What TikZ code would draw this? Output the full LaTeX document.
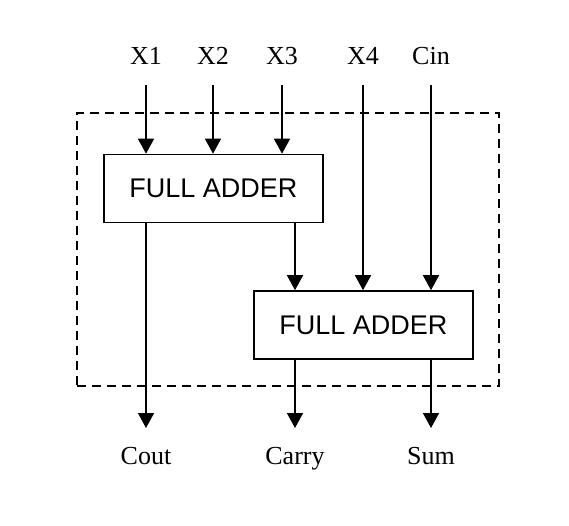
\documentclass[tikz,border=0pt]{standalone}
\usepackage{fontspec}
\setmainfont{Liberation Serif}
\newfontfamily\boxfont{Liberation Sans}
\usetikzlibrary{arrows.meta}

\tikzset{
    adder/.style={draw, line width=1.6pt, minimum width=219pt, minimum height=68pt, inner sep=0pt, font=\boxfont\fontsize{27}{30}\selectfont},
    block/.style={draw, line width=1.6pt, dash pattern=on 9pt off 6pt, minimum width=422pt, minimum height=273pt, inner sep=0pt},
    sig/.style={inner sep=0pt, anchor=base, font=\fontsize{26}{30}\selectfont},
    wire/.style={line width=1.6pt, -{Triangle[width=16pt,length=15pt]}}
}

\begin{document}
\begin{tikzpicture}[x=1pt, y=-1pt]
        % Define Variables
        \def\cA{146}
        \def\cB{213}
        \def\cC{282}
        \def\cD{363}
        \def\cE{431}
        \def\cF{295}
        \def\top{85}
        \def\bottom{428}

        \useasboundingbox (0,0) rectangle (569,526);

        % Overall Scheme
        \node[block] (blk) at (288,249.5) {};
        \node[adder] (fa1) at (213.5,188.5) {FULL ADDER};
        \node[adder] (fa2) at (363.5,325) {FULL ADDER};

        % Inputs
        \node[sig] (x1) at (\cA,65) {X1};
        \node[sig] (x2) at (\cB,65) {X2};
        \node[sig] (x3) at (\cC,65) {X3};
        \node[sig] (x4) at (\cD,65) {X4};
        \node[sig] (cin) at (\cE,65) {Cin};
        \coordinate (x1s) at (\cA,\top);
        \coordinate (x2s) at (\cB,\top);
        \coordinate (x3s) at (\cC,\top);
        \coordinate (x4s) at (\cD,\top);
        \coordinate (cins) at (\cE,\top);
        \draw[wire] (x1s) -- (x1s |- fa1.north);
        \draw[wire] (x2s) -- (x2s |- fa1.north);
        \draw[wire] (x3s) -- (x3s |- fa1.north);
        \draw[wire] (x4s) -- (x4s |- fa2.north);
        \draw[wire] (cins) -- (cins |- fa2.north);

        % Between Adders
        \coordinate (mid) at (\cF,\top);
        \draw[wire] (mid |- fa1.south) -- (mid |- fa2.north);

        % Outputs
        \node[sig] (cout) at (\cA,464) {Cout};
        \node[sig] (carry) at (\cF,464) {Carry};
        \node[sig] (sum) at (\cE,464) {Sum};
        \coordinate (couts) at (\cA,\bottom);
        \coordinate (carrys) at (\cF,\bottom);
        \coordinate (sums) at (\cE,\bottom);
        \draw[wire] (couts |- fa1.south) -- (couts);
        \draw[wire] (carrys |- fa2.south) -- (carrys);
        \draw[wire] (sums |- fa2.south) -- (sums);

    \end{tikzpicture}
\end{document}
